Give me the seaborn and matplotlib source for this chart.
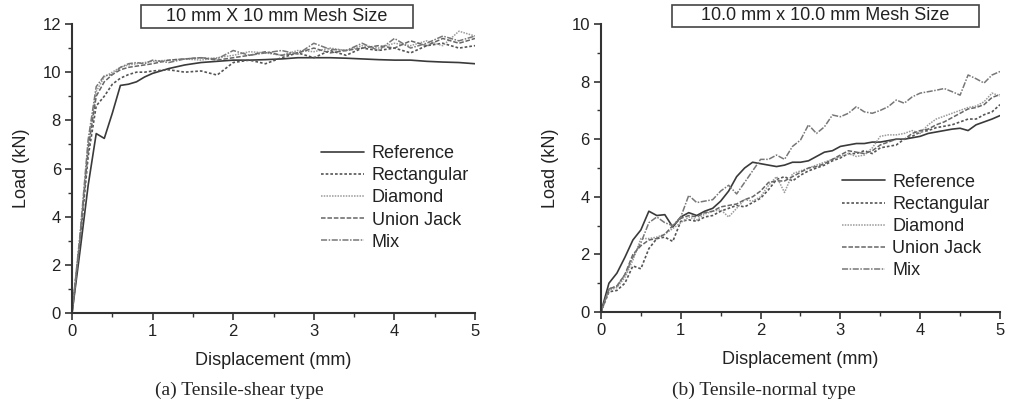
import numpy as np
import pandas as pd
import seaborn as sns
import matplotlib.pyplot as plt
import matplotlib.patches as patches
from matplotlib.ticker import MultipleLocator

series_names = ['Reference', 'Rectangular', 'Diamond', 'Union Jack', 'Mix']

# (a) tensile-shear: displacement (mm)
disp_a = [0, 0.1, 0.2, 0.3, 0.4, 0.5, 0.6, 0.7, 0.8, 0.9, 1.0,
          1.2, 1.4, 1.6, 1.8, 2.0, 2.2, 2.4, 2.6, 2.8, 3.0,
          3.2, 3.4, 3.6, 3.8, 4.0, 4.2, 4.4, 4.6, 4.8, 5.0]
ref_a = [0, 2.6, 5.3, 7.45, 7.25, 8.3, 9.45, 9.5, 9.6, 9.8, 9.95,
         10.15, 10.3, 10.4, 10.45, 10.5, 10.5, 10.52, 10.55, 10.6, 10.6,
         10.6, 10.58, 10.55, 10.52, 10.5, 10.5, 10.45, 10.42, 10.4, 10.35]
rect_a = [0, 3.0, 6.5, 8.6, 9.0, 9.5, 9.75, 9.9, 10.0, 10.0, 10.05,
          10.1, 10.0, 10.05, 9.88, 10.4, 10.5, 10.35, 10.6, 10.8, 10.6,
          10.9, 10.7, 11.0, 10.9, 11.0, 10.8, 11.1, 11.2, 11.0, 11.1]
diam_a = [0, 3.2, 7.0, 9.2, 9.8, 10.0, 10.2, 10.3, 10.35, 10.4, 10.45,
          10.5, 10.55, 10.5, 10.6, 10.7, 10.85, 10.8, 10.7, 10.9, 10.85,
          11.0, 10.9, 11.1, 11.0, 11.2, 11.1, 11.3, 11.1, 11.7, 11.5]
uj_a = [0, 3.1, 6.8, 9.0, 9.6, 9.9, 10.1, 10.2, 10.25, 10.3, 10.35,
        10.5, 10.55, 10.6, 10.5, 10.6, 10.7, 10.85, 10.7, 10.8, 11.0,
        10.8, 10.9, 11.0, 11.1, 11.0, 11.3, 11.1, 11.4, 11.2, 11.4]
mix_a = [0, 3.3, 7.2, 9.4, 9.85, 9.9, 10.2, 10.35, 10.4, 10.35, 10.5,
         10.4, 10.55, 10.6, 10.55, 10.9, 10.7, 10.8, 10.9, 10.75, 11.2,
         10.95, 10.9, 11.2, 10.9, 11.4, 11.0, 11.2, 11.5, 11.3, 11.5]

# (b) tensile-normal
disp_b = [round(0.1 * i, 1) for i in range(51)]
ref_b = [0, 1.0, 1.35, 1.9, 2.5, 2.85, 3.5, 3.35, 3.38, 2.95, 3.3,
         3.45, 3.35, 3.5, 3.6, 3.85, 4.2, 4.7, 5.0, 5.2, 5.15,
         5.1, 5.05, 5.1, 5.2, 5.2, 5.25, 5.4, 5.55, 5.6, 5.75,
         5.8, 5.85, 5.85, 5.9, 5.9, 5.95, 6.0, 6.0, 6.05, 6.1,
         6.2, 6.25, 6.3, 6.35, 6.38, 6.3, 6.5, 6.6, 6.7, 6.82]
rect_b = [0, 0.7, 0.75, 1.0, 1.6, 1.5, 2.2, 2.55, 2.6, 2.45, 3.15,
          3.2, 3.15, 3.3, 3.35, 3.5, 3.6, 3.7, 3.65, 3.8, 3.95,
          4.25, 4.6, 4.7, 4.55, 4.75, 4.9, 5.0, 5.1, 5.25, 5.35,
          5.5, 5.5, 5.6, 5.5, 5.7, 5.75, 5.8, 6.0, 6.1, 6.25,
          6.3, 6.4, 6.45, 6.5, 6.6, 6.7, 6.7, 6.85, 6.95, 7.2]
diam_b = [0, 0.75, 0.85, 1.2, 1.8, 2.55, 2.55, 2.6, 2.7, 2.9, 3.1,
          3.3, 3.2, 3.4, 3.5, 3.55, 3.3, 3.6, 3.9, 3.85, 4.0,
          4.4, 4.7, 4.15, 4.8, 4.9, 5.0, 5.1, 5.2, 5.3, 5.4,
          5.5, 5.4, 5.45, 5.7, 6.1, 6.15, 6.15, 6.2, 6.3, 6.2,
          6.5, 6.7, 6.8, 6.9, 7.0, 7.1, 7.15, 7.3, 7.6, 7.5]
uj_b = [0, 0.8, 0.9, 1.3, 2.0, 2.3, 2.5, 2.55, 2.7, 3.0, 3.25,
        3.35, 3.3, 3.45, 3.5, 3.65, 3.7, 3.75, 3.9, 4.0, 4.2,
        4.5, 4.55, 4.55, 4.7, 4.85, 5.0, 5.05, 5.15, 5.3, 5.45,
        5.6, 5.55, 5.5, 5.6, 5.8, 5.9, 6.0, 6.0, 6.2, 6.3,
        6.35, 6.5, 6.6, 6.75, 6.9, 7.05, 7.1, 7.2, 7.45, 7.55]
mix_b = [0, 0.8, 0.9, 1.3, 1.9, 2.4, 3.1, 3.3, 3.1, 3.0, 3.3,
         4.05, 3.8, 3.85, 3.9, 4.2, 4.4, 4.1, 4.5, 4.9, 5.3,
         5.3, 5.45, 5.3, 5.75, 5.97, 6.5, 6.2, 6.43, 6.84, 6.78,
         6.9, 7.13, 6.95, 6.9, 7.0, 7.13, 7.36, 7.25, 7.47, 7.6,
         7.65, 7.7, 7.76, 7.65, 7.53, 8.23, 8.1, 7.95, 8.23, 8.35]

styles = {
    'Reference': dict(color='#3a3a3a', dashes=(None, None), lw=1.2),
    'Rectangular': dict(color='#555555', dashes=(1.6, 1.2), lw=1.2),
    'Diamond': dict(color='#9a9a9a', dashes=(1.0, 0.8), lw=1.1),
    'Union Jack': dict(color='#666666', dashes=(3.0, 1.2), lw=1.1),
    'Mix': dict(color='#777777', dashes=(4.0, 1.0, 1.0, 1.0), lw=1.1),
}

sns.set_style('ticks')
plt.rcParams['font.family'] = ['Liberation Sans', 'DejaVu Sans']

fig = plt.figure(figsize=(10.09, 4.04), dpi=100)
ax_a = fig.add_axes([0.0714, 0.2252, 0.3994, 0.7154])
ax_b = fig.add_axes([0.5956, 0.2277, 0.3955, 0.7129])


def draw_panel(ax, disp, values, ymax, legend_anchor):
    for name, y in zip(series_names, values):
        st = styles[name]
        sns.lineplot(x=disp, y=y, ax=ax, color=st['color'], lw=st['lw'], label=name)
        ln = ax.lines[-1]
        if st['dashes'][0] is not None:
            ln.set_dashes(st['dashes'])
    ax.set_xlim(0, 5)
    ax.set_ylim(0, ymax)
    ax.xaxis.set_major_locator(MultipleLocator(1))
    ax.xaxis.set_minor_locator(MultipleLocator(0.5))
    ax.yaxis.set_major_locator(MultipleLocator(2))
    ax.yaxis.set_minor_locator(MultipleLocator(1))
    ax.tick_params(which='major', length=5, width=1.2, color='#333333', labelsize=12,
                   labelcolor='#222222', pad=3)
    ax.tick_params(which='minor', length=3, width=1.0, color='#333333')
    sns.despine(ax=ax)
    for sp in ['left', 'bottom']:
        ax.spines[sp].set_linewidth(1.5)
        ax.spines[sp].set_color('#333333')
    ax.set_xlabel('Displacement (mm)', fontsize=13, color='#222222', labelpad=9)
    ax.set_ylabel('Load (kN)', fontsize=13, color='#222222', labelpad=9)
    leg = ax.legend(loc='upper left', bbox_to_anchor=legend_anchor, frameon=False, fontsize=13,
                    handlelength=2.4, handletextpad=0.4, labelspacing=0.28, borderaxespad=0)
    for t in leg.get_texts():
        t.set_color('#222222')


draw_panel(ax_a, disp_a, [ref_a, rect_a, diam_a, uj_a, mix_a], 12, (0.6, 0.605))
draw_panel(ax_b, disp_b, [ref_b, rect_b, diam_b, uj_b, mix_b], 10, (0.585, 0.505))

# title boxes
for (x0, y0, w, h), txt in [((0.1397, 0.9307, 0.2696, 0.0569), '10 mm X 10 mm Mesh Size'),
                            ((0.666, 0.9332, 0.3043, 0.0545), '10.0 mm x 10.0 mm Mesh Size')]:
    fig.patches.append(patches.Rectangle((x0, y0), w, h, transform=fig.transFigure,
                                         fill=False, edgecolor='#444444', lw=1.2))
    fig.text(x0 + w / 2, y0 + h / 2, txt, ha='center', va='center', fontsize=13, color='#222222')

fig.text(0.237, 0.035, '(a) Tensile-shear type', ha='center', va='center', fontsize=14,
         family=['Liberation Serif', 'DejaVu Serif'])
fig.text(0.757, 0.035, '(b) Tensile-normal type', ha='center', va='center', fontsize=14,
         family=['Liberation Serif', 'DejaVu Serif'])

fig.savefig('out.png', dpi=100)
